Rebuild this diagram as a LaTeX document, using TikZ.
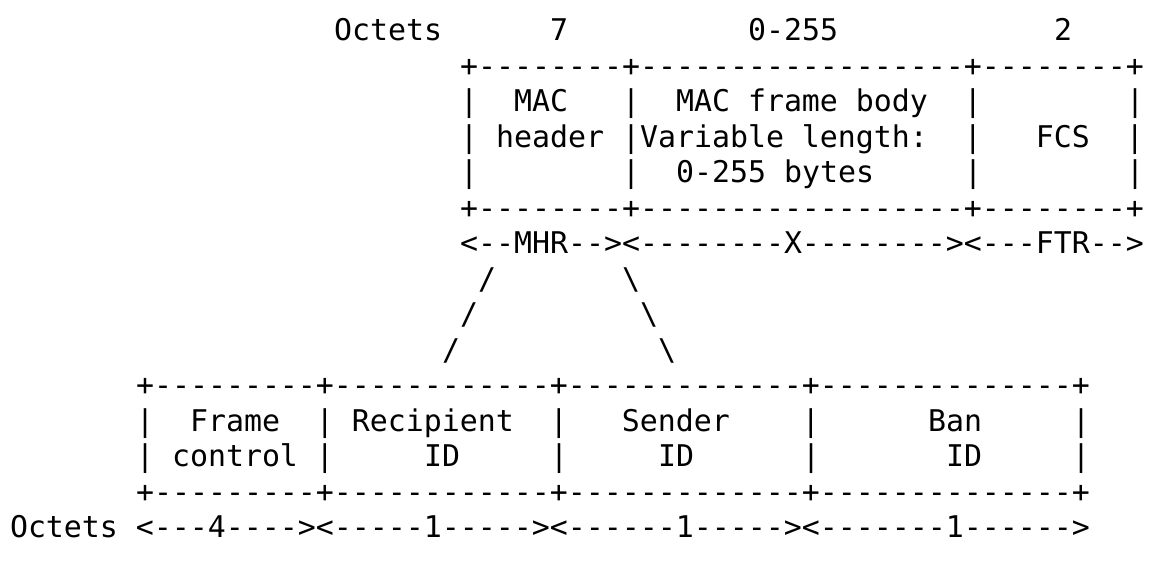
\documentclass[tikz,border=0pt]{standalone}
\usepackage{fontspec}
\setmonofont{DejaVu Sans Mono}
\begin{document}
\begin{tikzpicture}[x=1pt,y=1pt,
  row/.style={anchor=base west, inner sep=0pt, outer sep=0pt,
    font=\ttfamily\fontsize{29.9pt}{35pt}\selectfont\frenchspacing}]
\fill[white] (0,0) rectangle (1149,-567);
\useasboundingbox (0,0) rectangle (1149,-567);
% top part
\node[row] (r0)  at (334,-40.9)  {Octets~~~~~~7~~~~~~~~~~0-255~~~~~~~~~~~~2};
\node[row] (r1)  at (460,-76.4)  {+--------+------------------+--------+};
\node[row] (r2)  at (460,-111.9) {|~~MAC~~~|~~MAC~frame~body~~|~~~~~~~~|};
\node[row] (r3)  at (460,-147.4) {|~header~|Variable~length:~~|~~~FCS~~|};
\node[row] (r4)  at (460,-182.9) {|~~~~~~~~|~~0-255~bytes~~~~~|~~~~~~~~|};
\node[row] (r5)  at (460,-218.4) {+--------+------------------+--------+};
\node[row] (r6)  at (460,-253.9) {<--MHR--><--------X--------><---FTR-->};
% slanted lines
\node[row] (r7a) at (478,-289.4) {/};
\node[row] (r7b) at (622,-289.4) {\textbackslash};
\node[row] (r8a) at (460,-324.9) {/};
\node[row] (r8b) at (640,-324.9) {\textbackslash};
\node[row] (r9a) at (442,-360.4) {/};
\node[row] (r9b) at (658,-360.4) {\textbackslash};
% bottom part
\node[row] (r10) at (136,-395.9) {+---------+------------+-------------+--------------+};
\node[row] (r11) at (136,-431.4) {|~~Frame~~|~Recipient~~|~~~Sender~~~~|~~~~~~Ban~~~~~|};
\node[row] (r12) at (136,-466.9) {|~control~|~~~~~ID~~~~~|~~~~~ID~~~~~~|~~~~~~~ID~~~~~|};
\node[row] (r13) at (136,-502.4) {+---------+------------+-------------+--------------+};
\node[row] (r14) at (10,-537.9)  {Octets~<---4----><-----1-----><------1-----><-------1------>};
\end{tikzpicture}
\end{document}
